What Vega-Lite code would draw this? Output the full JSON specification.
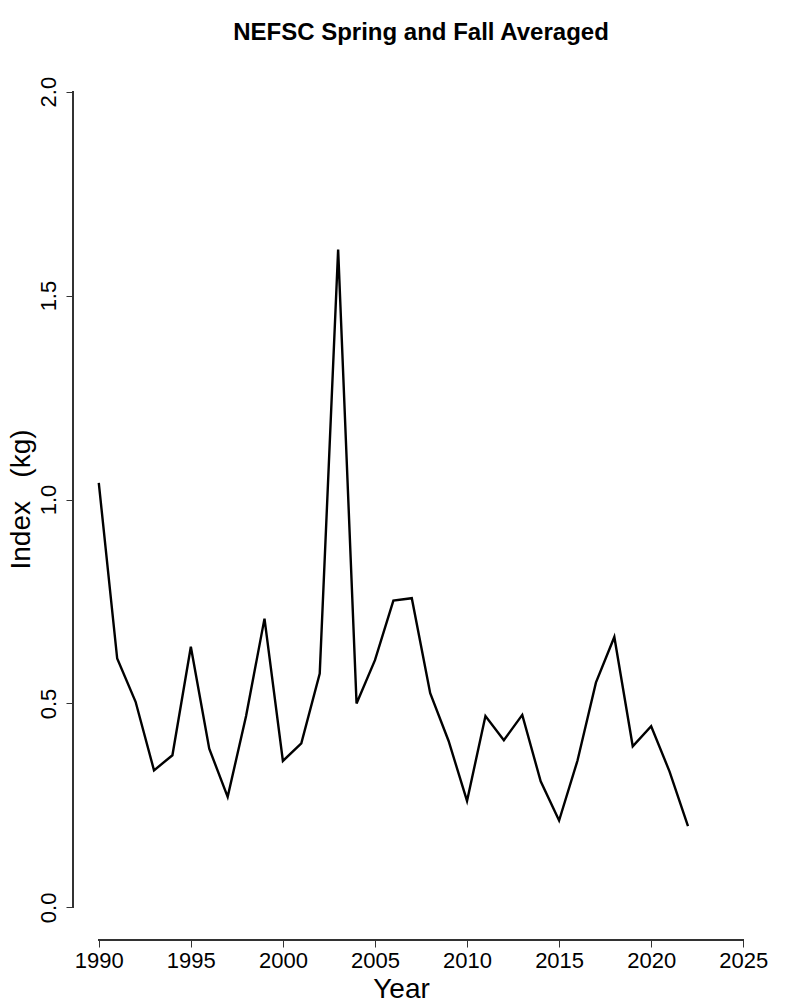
{
  "$schema": "https://vega.github.io/schema/vega-lite/v6.json",
  "description": "NEFSC Spring and Fall Averaged index, 1990-2022.",
  "width": 696,
  "height": 881,
  "autosize": {"type": "none"},
  "padding": {"left": 73, "top": 59, "right": 31, "bottom": 60},
  "background": "white",
  "config": {"view": {"stroke": null}},
  "title": {
    "text": "NEFSC Spring and Fall Averaged",
    "font": "Liberation Sans",
    "fontSize": 24,
    "fontWeight": "bold",
    "color": "black",
    "anchor": "middle",
    "frame": "group",
    "baseline": "alphabetic",
    "offset": 20,
    "dy": 25
  },
  "data": {
    "values": [
      {"year": 1990, "index": 1.041},
      {"year": 1991, "index": 0.610},
      {"year": 1992, "index": 0.504},
      {"year": 1993, "index": 0.336},
      {"year": 1994, "index": 0.373},
      {"year": 1995, "index": 0.639},
      {"year": 1996, "index": 0.389},
      {"year": 1997, "index": 0.271},
      {"year": 1998, "index": 0.469},
      {"year": 1999, "index": 0.708},
      {"year": 2000, "index": 0.359},
      {"year": 2001, "index": 0.402},
      {"year": 2002, "index": 0.573},
      {"year": 2003, "index": 1.613},
      {"year": 2004, "index": 0.500},
      {"year": 2005, "index": 0.606},
      {"year": 2006, "index": 0.752},
      {"year": 2007, "index": 0.758},
      {"year": 2008, "index": 0.525},
      {"year": 2009, "index": 0.408},
      {"year": 2010, "index": 0.261},
      {"year": 2011, "index": 0.469},
      {"year": 2012, "index": 0.410},
      {"year": 2013, "index": 0.472},
      {"year": 2014, "index": 0.309},
      {"year": 2015, "index": 0.213},
      {"year": 2016, "index": 0.360},
      {"year": 2017, "index": 0.551},
      {"year": 2018, "index": 0.663},
      {"year": 2019, "index": 0.395},
      {"year": 2020, "index": 0.444},
      {"year": 2021, "index": 0.333},
      {"year": 2022, "index": 0.199}
    ]
  },
  "layer": [
    {
      "mark": {"type": "line", "color": "black", "strokeWidth": 2.4},
      "encoding": {
        "x": {
          "field": "year",
          "type": "quantitative",
          "scale": {"domain": [1988.6, 2026.4], "nice": false, "zero": false},
          "axis": {
            "title": "Year",
            "values": [1990, 1995, 2000, 2005, 2010, 2015, 2020, 2025],
            "format": "d",
            "domain": false,
            "grid": false,
            "tickSize": 7,
            "tickColor": "#333",
            "labelFont": "Liberation Sans",
            "labelFontSize": 22,
            "labelColor": "black",
            "labelBaseline": "alphabetic",
            "labelPadding": 20,
            "labelFlush": false,
            "labelOverlap": false,
            "titleFont": "Liberation Sans",
            "titleFontSize": 28,
            "titleFontWeight": "normal",
            "titleColor": "black",
            "titleBaseline": "alphabetic",
            "titleAlign": "center",
            "titleX": 328,
            "titleY": 57
          }
        },
        "y": {
          "field": "index",
          "type": "quantitative",
          "scale": {"domain": [-0.08, 2.08], "nice": false, "zero": false},
          "axis": {
            "title": "Index\u00a0\u00a0\u00a0(kg)",
            "values": [0, 0.5, 1, 1.5, 2],
            "format": ".1f",
            "domain": false,
            "grid": false,
            "tickSize": 7,
            "tickColor": "#333",
            "labelFont": "Liberation Sans",
            "labelFontSize": 22,
            "labelColor": "black",
            "labelAngle": -90,
            "labelAlign": "center",
            "labelBaseline": "alphabetic",
            "labelPadding": 11,
            "labelFlush": false,
            "labelOverlap": false,
            "titleFont": "Liberation Sans",
            "titleFontSize": 28,
            "titleFontWeight": "normal",
            "titleColor": "black",
            "titleAngle": -90,
            "titleBaseline": "alphabetic",
            "titleAlign": "center",
            "titleX": -44,
            "titleY": 440
          }
        }
      }
    },
    {
      "mark": {"type": "rule", "color": "#333", "strokeWidth": 1},
      "encoding": {
        "x": {"datum": 1990},
        "x2": {"datum": 2025},
        "y": {"datum": -0.08}
      }
    },
    {
      "mark": {"type": "rule", "color": "#333", "strokeWidth": 1},
      "encoding": {
        "x": {"datum": 1988.6},
        "y": {"datum": 0},
        "y2": {"datum": 2}
      }
    }
  ]
}
